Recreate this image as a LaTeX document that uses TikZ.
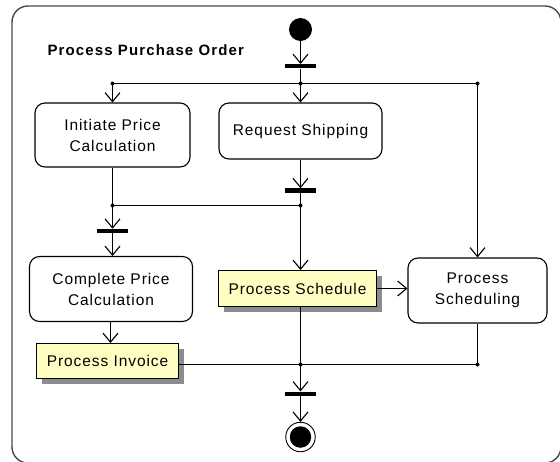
\documentclass[tikz,border=0pt]{standalone}
\usepackage{fontspec}
\setmainfont{Liberation Sans}
\newfontfamily\lblfont[LetterSpace=6]{Liberation Sans}
\newfontfamily\ttlfont[LetterSpace=7.5]{Liberation Sans}
\usetikzlibrary{arrows.meta,shadows}
\definecolor{notefill}{RGB}{255,255,196}
\begin{document}
\begin{tikzpicture}[x=1pt,y=-1pt,
  conn/.style={line width=1.1pt},
  arr/.style={conn,-{Straight Barb[length=9pt,width=15pt,line width=1.1pt]}},
  action/.style={draw,line width=1.1pt,rounded corners=10pt,fill=white,
    font=\lblfont\fontsize{15.5}{21}\selectfont,align=center,inner sep=0pt},
  objnode/.style={draw,line width=1pt,fill=notefill,
    font=\lblfont\fontsize{15.5}{21}\selectfont,align=center,inner sep=0pt,
    general shadow={fill=black!45,shadow xshift=5pt,shadow yshift=-5pt}},
  syncbar/.style={fill=black,draw=none,minimum width=31pt,minimum height=4.2pt,inner sep=0pt},
  junc/.style={circle,fill=black,inner sep=0pt,minimum size=4pt}
]
\useasboundingbox (0,0) rectangle (560,461);
\clip (0,0) rectangle (560,461);
\fill[white] (0,0) rectangle (560,461);
\draw[line width=1.4pt,color=black!72,rounded corners=16pt] (12,6) rectangle (561,463);

\node[anchor=base west,font=\ttlfont\bfseries\fontsize{15}{18}\selectfont] (title) at (44,55) {Process Purchase Order};

% start / end
\node[circle,fill=black,minimum size=23pt,inner sep=0pt] (start) at (300.5,29.5) {};
\node[circle,draw=black,line width=0.9pt,minimum size=29.5pt,inner sep=0pt] (endo) at (300.5,437) {};
\node[circle,fill=black,minimum size=21.5pt,inner sep=0pt] (endi) at (300.5,437) {};

% bars
\node[syncbar] (bar1) at (300.5,66.3) {};
\node[syncbar] (bar2) at (300.5,190.5) {};
\node[syncbar] (bar3) at (112,231) {};
\node[syncbar] (bar4) at (300.5,393.7) {};

% actions
\node[action,minimum width=155pt,minimum height=64pt] (initiate) at (112.5,135) {Initiate Price\\Calculation};
\node[action,minimum width=163pt,minimum height=56pt] (request) at (300.5,131) {Request Shipping};
\node[action,minimum width=163pt,minimum height=65pt] (complete) at (111,289) {Complete Price\\Calculation};
\node[action,minimum width=139pt,minimum height=65pt] (scheduling) at (477.5,290.5) {Process\\Scheduling};

% objects
\node[objnode,minimum width=142pt,minimum height=35pt] (invoice) at (107.5,361) {Process Invoice};
\node[objnode,minimum width=158pt,minimum height=36pt] (schedule) at (297.5,288.5) {Process Schedule};

% junction points
\coordinate (f1) at (112.5,83.5);
\coordinate (f2) at (300.5,83.5);
\coordinate (f3) at (477.5,83.5);
\coordinate (j1) at (112.5,205.5);
\coordinate (j2) at (300.5,205.5);
\coordinate (k1) at (300.5,364.5);
\coordinate (k2) at (477.5,364.5);
\coordinate (c1) at (110.5,322);

% connectors
\draw[arr] (start) -- (bar1);
\draw[conn] (bar1) -- (f2);
\draw[conn] (f1) -- (f3);
\draw[arr] (f1) -- (f1 |- initiate.north);
\draw[arr] (f2) -- (request.north);
\draw[arr] (f3) -- (f3 |- scheduling.north);

\draw[conn] (f1 |- initiate.south) -- (j1);
\draw[arr] (request.south) -- (bar2);
\draw[conn] (bar2) -- (j2);
\draw[conn] (j1) -- (j2);
\draw[arr] (j1) -- (j1 |- bar3.north);
\draw[arr] (j1 |- bar3.south) -- (j1 |- complete.north);
\draw[arr] (j2) -- (j2 |- schedule.north);

\draw[arr] (c1 |- complete.south) -- (c1 |- invoice.north);
\draw[arr] (schedule.east) -- (scheduling.west |- schedule.east);

\draw[conn] (invoice.east |- k1) -- (k1);
\draw[conn] (k1 |- schedule.south) -- (k1);
\draw[conn] (k2 |- scheduling.south) -- (k2) -- (k1);
\draw[arr] (k1) -- (bar4);
\draw[arr] (bar4) -- (endo);

\foreach \p in {f1,f2,f3,j1,j2,k1,k2} \node[junc] at (\p) {};
\end{tikzpicture}
\end{document}
